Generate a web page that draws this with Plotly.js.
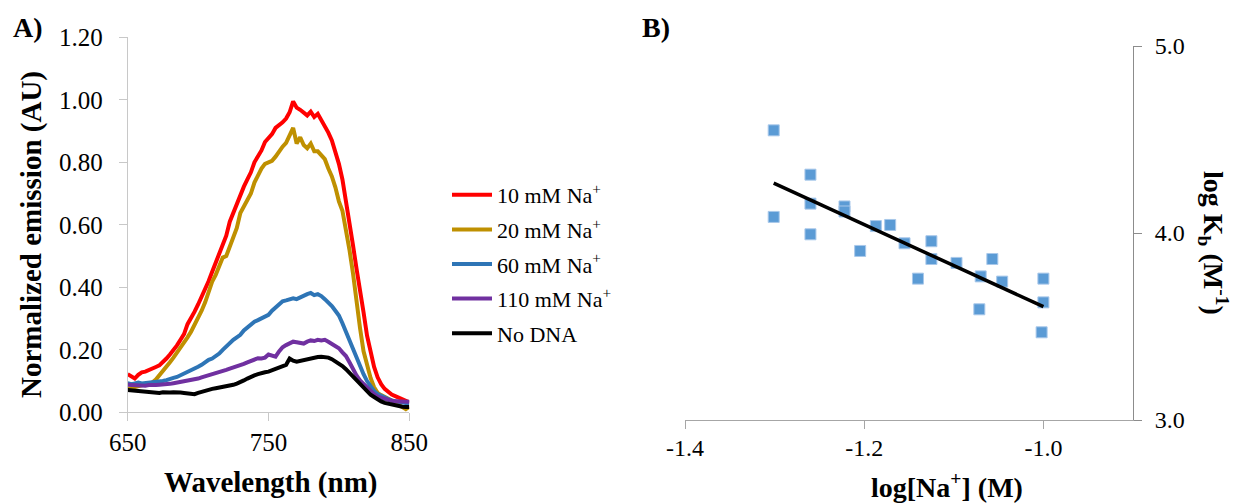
<!DOCTYPE html>
<html>
<head>
<meta charset="utf-8">
<script src="https://cdn.plot.ly/plotly-3.0.1.min.js"></script>
<style>html,body{margin:0;padding:0;background:#fff;}#chart{width:1235px;height:503px;}</style>
</head>
<body>
<div id="chart"></div>
<script>
// ---------- Panel A: emission spectra ----------
const wavelength = [650,652.5,655,657.5,660,662.5,665,667.5,670,672.5,675,677.5,680,682.5,685,687.5,690,692.5,695,697.5,
700,702.5,705,707.5,710,712.5,715,717.5,720,722.5,725,727.5,730,732.5,735,737.5,740,742.5,745,747.5,
750,752.5,755,757.5,760,762.5,765,767.5,770,772.5,775,777.5,780,782.5,785,787.5,790,792.5,795,797.5,
800,802.5,805,807.5,810,812.5,815,817.5,820,822.5,825,827.5,830,832.5,835,837.5,840,842.5,845,847.5,850];

const na10 = [0.122,0.115,0.108,0.120,0.128,0.130,0.136,0.140,0.145,0.150,0.160,0.172,0.185,0.198,0.214,0.232,0.250,0.282,0.300,0.322,
0.345,0.370,0.392,0.420,0.450,0.478,0.505,0.535,0.565,0.610,0.640,0.668,0.700,0.722,0.745,0.768,0.800,0.820,0.838,0.865,
0.878,0.890,0.910,0.918,0.928,0.940,0.960,0.995,0.975,0.968,0.960,0.950,0.962,0.945,0.955,0.935,0.920,0.895,0.870,0.835,
0.795,0.745,0.680,0.610,0.535,0.460,0.395,0.320,0.245,0.190,0.145,0.112,0.090,0.075,0.065,0.057,0.052,0.047,0.042,0.038,0.032];

const na20 = [0.075,0.078,0.080,0.082,0.084,0.087,0.090,0.095,0.105,0.118,0.130,0.145,0.160,0.175,0.190,0.205,0.222,0.240,0.258,0.280,
0.300,0.325,0.352,0.385,0.418,0.440,0.470,0.495,0.500,0.530,0.565,0.590,0.638,0.660,0.675,0.700,0.735,0.760,0.780,0.795,
0.800,0.805,0.818,0.835,0.850,0.862,0.890,0.910,0.860,0.880,0.855,0.845,0.860,0.835,0.835,0.820,0.810,0.780,0.755,0.720,
0.675,0.645,0.590,0.520,0.445,0.345,0.270,0.195,0.150,0.110,0.080,0.062,0.055,0.050,0.045,0.038,0.030,0.024,0.018,0.010,0.018];

const na60 = [0.093,0.090,0.092,0.095,0.092,0.093,0.095,0.094,0.097,0.098,0.100,0.103,0.105,0.110,0.113,0.118,0.124,0.130,0.136,0.140,
0.146,0.152,0.160,0.168,0.172,0.180,0.188,0.200,0.212,0.222,0.232,0.240,0.248,0.262,0.272,0.282,0.290,0.295,0.300,0.305,
0.312,0.325,0.335,0.348,0.355,0.358,0.362,0.365,0.362,0.368,0.372,0.378,0.382,0.375,0.378,0.372,0.362,0.352,0.340,0.325,
0.310,0.285,0.258,0.228,0.200,0.172,0.146,0.122,0.100,0.082,0.068,0.058,0.052,0.047,0.042,0.038,0.035,0.033,0.031,0.030,0.028];

const na110 = [0.088,0.087,0.088,0.086,0.087,0.085,0.087,0.086,0.087,0.088,0.088,0.090,0.091,0.093,0.095,0.096,0.098,0.100,0.103,0.106,
0.108,0.112,0.115,0.119,0.122,0.126,0.130,0.133,0.136,0.140,0.143,0.147,0.150,0.155,0.160,0.165,0.170,0.173,0.172,0.175,
0.185,0.180,0.178,0.195,0.208,0.215,0.222,0.226,0.224,0.222,0.220,0.226,0.230,0.228,0.232,0.230,0.232,0.226,0.220,0.212,
0.205,0.192,0.180,0.160,0.137,0.118,0.102,0.090,0.078,0.066,0.058,0.050,0.046,0.043,0.040,0.037,0.035,0.034,0.034,0.033,0.034];

const noDNA = [0.071,0.070,0.068,0.067,0.066,0.066,0.064,0.065,0.063,0.062,0.064,0.062,0.063,0.064,0.062,0.063,0.062,0.060,0.061,0.058,
0.062,0.066,0.068,0.072,0.075,0.077,0.079,0.080,0.082,0.085,0.088,0.092,0.096,0.102,0.108,0.114,0.118,0.122,0.126,0.128,
0.130,0.134,0.138,0.143,0.146,0.152,0.172,0.165,0.162,0.165,0.168,0.170,0.173,0.175,0.177,0.178,0.178,0.175,0.170,0.163,
0.157,0.148,0.138,0.126,0.114,0.100,0.088,0.076,0.066,0.056,0.049,0.041,0.035,0.030,0.027,0.024,0.021,0.019,0.018,0.017,0.017];

const seriesNames = ['10 mM Na<sup>+</sup>','20 mM Na<sup>+</sup>','60 mM Na<sup>+</sup>','110 mM Na<sup>+</sup>','No DNA'];
const seriesColors = ['#FF0000','#BF9000','#2E75B6','#7030A0','#000000'];
const seriesValues = [na10, na20, na60, na110, noDNA];

const xTicksA = [650, 750, 850];
const yTicksA = [0, 0.2, 0.4, 0.6, 0.8, 1.0, 1.2];

// ---------- Panel B: log Kb vs log[Na+] ----------
const logNa = [-1.301,-1.301,-1.260,-1.260,-1.260,-1.222,-1.222,-1.2045,-1.187,-1.171,-1.155,-1.140,-1.125,-1.125,-1.097,-1.0715,-1.070,-1.057,-1.046,-1.000,-1.000,-1.002];
const logKb = [4.549,4.086,4.312,4.157,3.993,4.142,4.115,3.904,4.037,4.043,3.945,3.756,3.956,3.861,3.840,3.592,3.768,3.861,3.740,3.756,3.629,3.469];
const trendX = [-1.301, -1.000];
const trendY = [4.267, 3.606];

const xTicksB = [-1.4, -1.2, -1.0];
const yTicksB = [3.0, 4.0, 5.0];

const FONT = '"Liberation Serif", "Times New Roman", serif';
const W = 1235, H = 503;
const px = v => v / W;
const py = v => 1 - v / H;

const traces = seriesValues.map((vals, i) => ({
  type: 'scatter', mode: 'lines', x: wavelength, y: vals,
  name: seriesNames[i], legendgroup: 'g' + i,
  line: {color: seriesColors[i], width: 4},
  xaxis: 'x', yaxis: 'y'
}));

traces.push({
  type: 'scatter', mode: 'markers', x: logNa, y: logKb, showlegend: false,
  marker: {symbol: 'square', size: 11, color: '#5B9BD5', line: {color: '#A9C8EA', width: 1}},
  xaxis: 'x2', yaxis: 'y2'
});
traces.push({
  type: 'scatter', mode: 'lines', x: trendX, y: trendY, showlegend: false,
  line: {color: '#000000', width: 3.5},
  xaxis: 'x2', yaxis: 'y2'
});

const axisBase = {
  showgrid: false, zeroline: false, showline: true, ticks: 'outside', ticklen: 8, tickwidth: 1,
  tickfont: {family: FONT, size: 25, color: '#000'}, fixedrange: true
};

const layout = {
  width: W, height: H, margin: {l: 0, r: 0, t: 0, b: 0},
  paper_bgcolor: '#fff', plot_bgcolor: 'rgba(0,0,0,0)',
  font: {family: FONT, color: '#000'},
  showlegend: true,
  legend: {
    x: px(447), y: py(174), xanchor: 'left', yanchor: 'top',
    font: {family: FONT, size: 22, color: '#000'},
    traceorder: 'grouped', tracegroupgap: 3, itemwidth: 40,
    bgcolor: 'rgba(0,0,0,0)'
  },
  xaxis: Object.assign({}, axisBase, {
    domain: [px(127.7), px(409.3)], anchor: 'y', range: [650, 850],
    tickmode: 'array', tickvals: xTicksA, ticktext: xTicksA.map(String),
    linecolor: '#C8C8C8', tickcolor: '#C8C8C8', ticklabelstandoff: 0
  }),
  yaxis: Object.assign({}, axisBase, {
    domain: [1 - 412.3 / H, 1 - 37.3 / H], anchor: 'x', range: [0, 1.2],
    tickmode: 'array', tickvals: yTicksA, ticktext: yTicksA.map(v => v.toFixed(2)),
    linecolor: '#C8C8C8', tickcolor: '#C8C8C8', ticklabelstandoff: 11
  }),
  xaxis2: Object.assign({}, axisBase, {
    domain: [px(685), px(1133)], anchor: 'y2', range: [-1.4, -0.9],
    tickmode: 'array', tickvals: xTicksB, ticktext: xTicksB.map(v => v.toFixed(1)),
    linecolor: '#A6A6A6', tickcolor: '#A6A6A6', ticklabelstandoff: -2,
    tickfont: {family: FONT, size: 24, color: '#000'}
  }),
  yaxis2: Object.assign({}, axisBase, {
    domain: [1 - 420 / H, 1 - 46 / H], anchor: 'x2', side: 'right', range: [3, 5],
    tickmode: 'array', tickvals: yTicksB, ticktext: yTicksB.map(v => v.toFixed(1)),
    linecolor: '#8C8C8C', tickcolor: '#8C8C8C', ticklabelstandoff: 8,
    tickfont: {family: FONT, size: 24, color: '#000'}
  }),
  annotations: [
    {text: '<b>A)</b>', x: px(28), y: py(27), xref: 'paper', yref: 'paper', showarrow: false,
     font: {family: FONT, size: 28, color: '#000'}, xanchor: 'center', yanchor: 'middle'},
    {text: '<b>B)</b>', x: px(656), y: py(27), xref: 'paper', yref: 'paper', showarrow: false,
     font: {family: FONT, size: 28, color: '#000'}, xanchor: 'center', yanchor: 'middle'},
    {text: '<b>Normalized emission (AU)</b>', x: px(31), y: py(235), xref: 'paper', yref: 'paper', showarrow: false,
     textangle: -90, font: {family: FONT, size: 29, color: '#000'}, xanchor: 'center', yanchor: 'middle'},
    {text: '<b>Wavelength (nm)</b>', x: px(270), y: py(482), xref: 'paper', yref: 'paper', showarrow: false,
     font: {family: FONT, size: 29, color: '#000'}, xanchor: 'center', yanchor: 'middle'},
    {text: '<b>log[Na<sup>+</sup>] (M)</b>', x: px(947), y: py(485), xref: 'paper', yref: 'paper', showarrow: false,
     font: {family: FONT, size: 28, color: '#000'}, xanchor: 'center', yanchor: 'middle'},
    {text: '<b>log K<sub>b</sub> (M<sup>-1</sup>)</b>', x: px(1214), y: py(243), xref: 'paper', yref: 'paper', showarrow: false,
     textangle: 90, font: {family: FONT, size: 28, color: '#000'}, xanchor: 'center', yanchor: 'middle'}
  ]
};

Plotly.newPlot('chart', traces, layout, {staticPlot: true, displayModeBar: false});
</script>
</body>
</html>
